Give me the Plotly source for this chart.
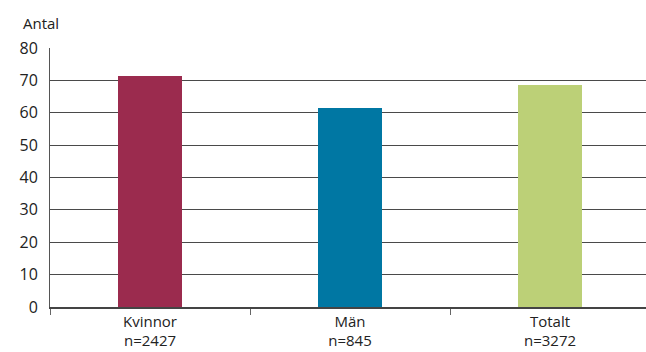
import plotly.graph_objects as go

categories = ["Kvinnor<br>n=2427", "Män<br>n=845", "Totalt<br>n=3272"]
values = [71.2, 61.6, 68.7]
colors = ["#9b2b4e", "#0077a3", "#bcd077"]
y_ticks = [0, 10, 20, 30, 40, 50, 60, 70, 80]

fig = go.Figure(go.Bar(x=categories, y=values, marker_color=colors,
                       marker_line_width=0, width=0.32))

font = dict(family="Open Sans, Noto Sans, sans-serif", size=16, color="#222222")
fig.update_layout(
    width=646, height=352,
    margin=dict(l=50, r=0, t=48, b=45),
    plot_bgcolor="white", paper_bgcolor="white",
    font=font, showlegend=False, bargap=0,
)
fig.update_xaxes(
    type="category", range=[-0.5, 2.48],
    showline=True, linecolor="#444444", linewidth=1.5,
    ticks="outside", tickson="boundaries", ticklen=6, tickcolor="#666666",
    showgrid=False, tickfont=dict(family="Open Sans, Noto Sans, sans-serif", size=15, color="#222222"),
)
fig.update_yaxes(
    range=[0, 80], tickvals=y_ticks,
    showline=True, linecolor="#555555", linewidth=1,
    showgrid=True, gridcolor="#4a4a4a", gridwidth=1,
    ticks="", ticklabelstandoff=8, tickfont=font, zeroline=False,
)
fig.add_annotation(text="Antal", xref="paper", yref="paper", x=-0.048, y=1.0,
                   yshift=25, xanchor="left", yanchor="middle", showarrow=False,
                   font=dict(family="Open Sans, Noto Sans, sans-serif", size=15, color="#222222"))
fig.write_html("out.html")
